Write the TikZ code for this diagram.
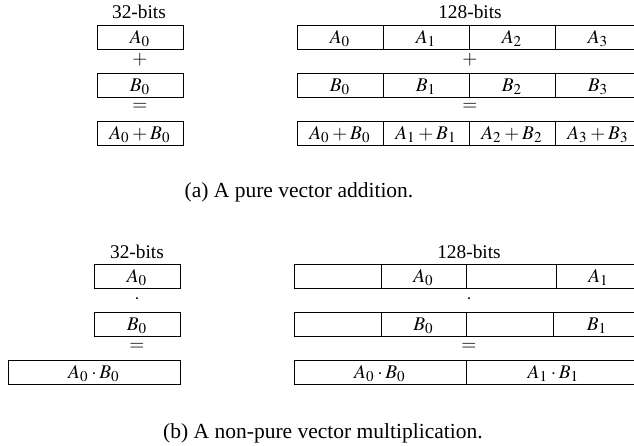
\documentclass[tikz,border=0pt]{standalone}
\usepackage{mathptmx}
\usepackage[no-math]{fontspec}
\setmainfont{Liberation Serif}
\usepackage{tikz}
\usetikzlibrary{positioning}

\tikzset{
  cell/.style={draw, minimum width=#1*0.465pt, minimum height=11.16pt, inner sep=0pt,
    text height=6.9pt, text depth=1.3pt, font=\small},
  cell/.default=86,
  lbl/.style={inner sep=0pt, font=\small},
  captxt/.style={inner sep=0pt}
}

\begin{document}
\begin{tikzpicture}[x=0.465pt, y=-0.465pt]
    \useasboundingbox (0,0) rectangle (634,446);
    % (a) addition
    \node[lbl] (wa) at (139,12) {32-bits};
    \node[cell] (sa) at (140,37) {$A_0$};
    \node[lbl] (sop) at (140,60) {$+$};
    \node[cell] (sb) at (140,85) {$B_0$};
    \node[lbl] (seq) at (140,107) {$=$};
    \node[cell] (sr) at (140,133) {$A_0+B_0$};
    \node[lbl] (wv) at (470,12) {128-bits};
    \foreach \i in {0,...,3} {
      \node[cell] (va\i) at (340+\i*86,37) {$A_\i$};
      \node[cell] (vb\i) at (340+\i*86,85) {$B_\i$};
      \node[cell] (vr\i) at (340+\i*86,133) {$A_\i+B_\i$};
    }
    \node[lbl] (vop) at (470,60) {$+$};
    \node[lbl] (veq) at (470,107) {$=$};
    \node[captxt] (capa) at (299,192) {(a) A pure vector addition.};
    % (b) multiplication
    \node[lbl] (wm) at (137,252) {32-bits};
    \node[cell] (ma) at (137,276) {$A_0$};
    \node[lbl] (mop) at (137,299) {$\cdot$};
    \node[cell] (mb) at (137,324) {$B_0$};
    \node[lbl] (meq) at (137,347) {$=$};
    \node[cell=172] (mr) at (94,372) {$A_0\cdot B_0$};
    \node[lbl] (wn) at (469,252) {128-bits};
    \foreach \v/\x/\w [count=\i from 0] in
      {/337.5/87, A_0/423.5/85, /511/90, A_1/598.5/85}
      \node[cell=\w] (na\i) at (\x,276) {$\v$};
    \node[lbl] (nop) at (469,299) {$\cdot$};
    \foreach \v/\x/\w [count=\i from 0] in
      {/337.5/87, B_0/423.5/85, /509.5/87, B_1/597/88}
      \node[cell=\w] (nb\i) at (\x,324) {$\v$};
    \node[lbl] (neq) at (469,347) {$=$};
    \node[cell=172] (nr0) at (380,372) {$A_0\cdot B_0$};
    \node[cell=175] (nr1) at (553.5,372) {$A_1\cdot B_1$};
    \node[captxt] (capb) at (323,433) {(b) A non-pure vector multiplication.};
\end{tikzpicture}
\end{document}
